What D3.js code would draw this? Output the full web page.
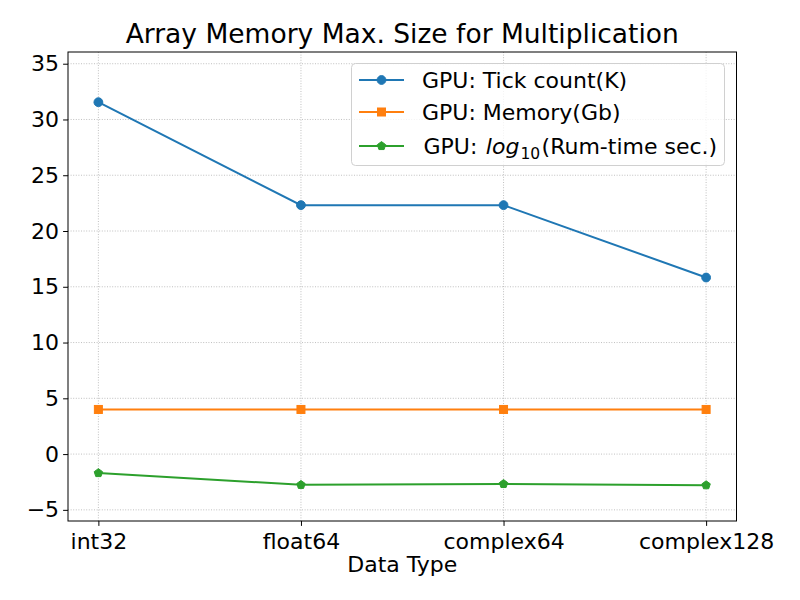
<!DOCTYPE html>
<html><head><meta charset="utf-8">
<script src="https://cdn.jsdelivr.net/npm/d3@7"></script>
<style>body{margin:0;background:#fff}svg{display:block}text{font-family:"DejaVu Sans",sans-serif;fill:#000}</style>
</head><body><svg id="c" width="800" height="600"></svg>
<script>
const categories = ["int32","float64","complex64","complex128"];
const tickCount = [31.55, 22.32, 22.32, 15.83];
const memory = [4, 4, 4, 4];
const logRuntime = [-1.70, -2.76, -2.68, -2.79];
const yTicks = [-5,0,5,10,15,20,25,30,35];
const seriesNames = ["GPU: Tick count(K)","GPU: Memory(Gb)","GPU: log10(Rum-time sec.)"];
const colors = ["#1f77b4","#ff7f0e","#2ca02c"];
const shapes = ["circle","square","pentagon"];

const svg = d3.select("#c");
const L=68, R=736.5, T=52, B=521;
const xi = d3.scaleLinear().domain([-0.15, categories.length - 1 + 0.15]).range([L,R]);
const y = d3.scaleLinear().domain([-6, 36.05]).range([B,T]);

// grid
const g = svg.append("g");
g.selectAll(".gx").data(categories).enter().append("line")
 .attr("x1",(d,i)=>xi(i)).attr("x2",(d,i)=>xi(i)).attr("y1",T).attr("y2",B)
 .attr("stroke","#b0b0b0").attr("stroke-width",0.8).attr("stroke-dasharray","1,1.6");
g.selectAll(".gy").data(yTicks).enter().append("line")
 .attr("x1",L).attr("x2",R).attr("y1",d=>y(d)).attr("y2",d=>y(d))
 .attr("stroke","#b0b0b0").attr("stroke-width",0.8).attr("stroke-dasharray","1,1.6");

// axes
const xAxis = d3.axisBottom(xi).tickValues(d3.range(categories.length)).tickFormat(i=>categories[i]).tickSize(4.9).tickPadding(4);
const yAxis = d3.axisLeft(y).tickValues(yTicks).tickFormat(d=>d<0?"\u2212"+Math.abs(d):d).tickSize(4.9).tickPadding(4);
const ax = svg.append("g").attr("transform",`translate(0,${B})`).call(xAxis);
const ay = svg.append("g").attr("transform",`translate(${L},0)`).call(yAxis);
[ax,ay].forEach(a=>{a.select(".domain").remove();a.selectAll("line").attr("stroke","#000").attr("stroke-width",1);
 a.selectAll("text").attr("font-size",22).attr("font-family","DejaVu Sans").attr("fill","#000");});
ax.selectAll("text").attr("dy","0.85em");

// markers
function pentPath(r){let p=[];for(let k=0;k<5;k++){const a=-Math.PI/2+k*2*Math.PI/5;p.push([r*Math.cos(a),r*Math.sin(a)]);}return "M"+p.map(q=>q.join(",")).join("L")+"Z";}
function drawMarker(sel, shape, color, cx, cy){
  if(shape==="circle") sel.append("circle").attr("cx",cx).attr("cy",cy).attr("r",4.4).attr("fill",color).attr("stroke",color).attr("stroke-width",1);
  else if(shape==="square") sel.append("rect").attr("x",cx-4).attr("y",cy-4).attr("width",8).attr("height",8).attr("fill",color).attr("stroke",color).attr("stroke-width",1);
  else sel.append("path").attr("d",pentPath(4.4)).attr("transform",`translate(${cx},${cy})`).attr("fill",color).attr("stroke",color).attr("stroke-width",1);
}

// series
const series = [tickCount, memory, logRuntime];
const line = d3.line().x((d,i)=>xi(i)).y(d=>y(d));
const plot = svg.append("g");
series.forEach((s,k)=>{
  plot.append("path").attr("d",line(s)).attr("fill","none").attr("stroke",colors[k]).attr("stroke-width",2);
  s.forEach((v,i)=>drawMarker(plot,shapes[k],colors[k],xi(i),y(v)));
});

// frame
svg.append("rect").attr("x",L).attr("y",T).attr("width",R-L).attr("height",B-T).attr("fill","none").attr("stroke","#000").attr("stroke-width",1);

// title and labels
svg.append("text").attr("x",(L+R)/2).attr("y",43).attr("text-anchor","middle").attr("font-size",26.5).text("Array Memory Max. Size for Multiplication");
svg.append("text").attr("x",(L+R)/2).attr("y",572).attr("text-anchor","middle").attr("font-size",22).text("Data Type");

// legend
const lg = svg.append("g");
lg.append("rect").attr("x",351.5).attr("y",63.5).attr("width",373).attr("height",102).attr("rx",4).attr("fill","#fff").attr("fill-opacity",0.8).attr("stroke","#d0d0d0").attr("stroke-width",1);
const ly=[80,112,146];
seriesNames.forEach((n,k)=>{
  lg.append("line").attr("x1",359).attr("x2",404).attr("y1",ly[k]).attr("y2",ly[k]).attr("stroke",colors[k]).attr("stroke-width",2);
  drawMarker(lg,shapes[k],colors[k],381.5,ly[k]);
  const t = lg.append("text").attr("x",k<2?422:423.5).attr("y",ly[k]).attr("dy","0.36em").attr("font-size",22);
  if(k<2) t.text(n);
  else {
    t.append("tspan").text("GPU: ");
    t.append("tspan").attr("dx",1.5).attr("font-style","italic").text("log");
    t.append("tspan").attr("dx",1).attr("font-size",15.5).attr("dy",5.5).text("10");
    t.append("tspan").attr("dx",1.5).attr("dy",-5.5).text("(Rum-time sec.)");
  }
});
</script></body></html>
